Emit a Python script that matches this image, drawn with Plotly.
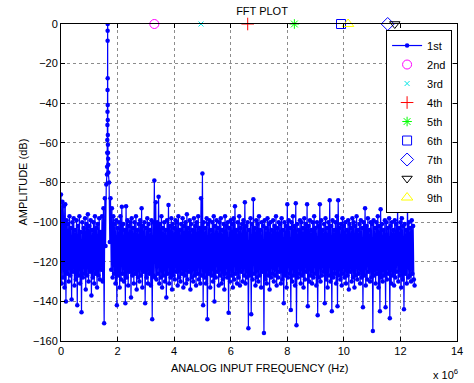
import numpy as np
import plotly.graph_objects as go

# ---------------- data ----------------
bin_hz = 25e3            # FFT bin spacing (Hz)
fund_hz = 1.65e6         # fundamental frequency (Hz)

# amplitude of each FFT bin (dB), bins 0..500 (0 .. 12.5 MHz)
noise_db = [
    -86, -131, -89.7, -128, -92, -133, -91, -140, -99, -126, -101, -130, -97, -127, -103, -139, -100, -125, -98, -132,
    -104, -129, -99, -142, -102, -127, -97, -131, -105, -145.5, -100, -128, -103, -126, -98, -134, -101, -127, -96, -130,
    -102, -125, -99, -137, -104, -128, -100, -131, -97, -126, -103, -133, -101, -127, -98, -129, -105, -124, -97, -130,
    -93, -151, -88, -112, -81, -76, 0, -75, -80, -110, -88, -124, -93, -128, -97, -126, -101, -131, -99, -142,
    -103, -127, -100, -133, -97, -129, -92.2, -126, -101, -130, -104, -141, -92, -128, -99, -132, -102, -125, -100, -138,
    -98, -127, -103, -131, -100, -126, -97, -134, -104, -128, -101, -130, -99, -127, -93, -133, -102, -125, -100, -141,
    -103, -128, -98, -131, -101, -126, -104, -132, -99, -149, -100, -127, -79, -128, -90, -129, -100, -126, -87.2, -131,
    -101, -128, -97, -133, -103, -127, -100, -130, -104, -138, -99, -126, -91.4, -131, -102, -128, -98, -134, -101, -127,
    -103, -129, -99, -125, -100, -132, -97, -128, -104, -130, -101, -126, -98, -133, -102, -127, -100, -131, -96, -129,
    -103, -125, -99, -134, -101, -128, -104, -130, -98, -127, -102, -132, -100, -126, -97, -129, -103, -131, -88, -127,
    -75.4, -142, -100, -128, -103, -131, -98, -149, -101, -126, -99, -133, -104, -127, -100, -130, -97, -140, -102, -128,
    -99, -125, -103, -132, -100, -127, -98, -131, -104, -129, -101, -134, -97, -126, -102, -128, -100, -145.8, -103, -130,
    -99, -127, -101, -133, -98, -129, -92, -126, -104, -131, -100, -128, -97, -132, -103, -125, -101, -130, -99, -127,
    -90, -131, -102, -128, -100, -153.6, -104, -127, -98, -146.5, -101, -129, -88.4, -126, -103, -132, -99, -128, -101, -130,
    -97, -127, -104, -133, -100, -125, -102, -156, -99, -129, -103, -131, -98, -127, -101, -134, -100, -128, -104, -126,
    -99, -130, -102, -127, -97, -132, -103, -128, -100, -125, -101, -131, -98, -129, -104, -141, -100, -127, -102, -133,
    -91, -128, -99, -126, -103, -144.4, -100, -130, -97, -127, -102, -132, -90.5, -152, -101, -128, -104, -126, -99, -131,
    -100, -127, -103, -133, -98, -129, -101, -125, -91, -142.4, -102, -130, -99, -127, -104, -131, -100, -128, -97, -126,
    -103, -132, -100, -147, -102, -128, -91, -130, -99, -127, -104, -125, -101, -141, -98, -129, -103, -133, -100, -127,
    -89, -130, -102, -145, -99, -128, -104, -126, -100, -131, -97, -142.4, -89, -127, -103, -129, -101, -132, -98, -126,
    -102, -128, -100, -131, -104, -127, -99, -134, -101, -125, -103, -130, -98, -128, -100, -133, -102, -127, -97, -129,
    -104, -126, -101, -131, -99, -128, -103, -143, -100, -127, -93, -132, -102, -129, -98, -125, -104, -130, -100, -128,
    -101, -155, -99, -127, -103, -131, -100, -126, -97, -133, -102, -145, -93.5, -128, -101, -130, -104, -127, -99, -143,
    -100, -129, -103, -126, -98, -148.5, -102, -131, -100, -127, -104, -132, -99, -128, -101, -125, -91.5, -130, -103, -127,
    -100, -133, -98, -129, -102, -144, -101, -126, -104, -131, -90, -128, -100, -127, -103, -130, -99, -126, -102, -129,
    -132,
]

# extra points on the leakage skirt of the fundamental (offset from fundamental, Hz)
skirt_offset_hz = [-20e3, -16e3, -12e3, -9e3, -6e3, -4e3, -2e3, -1e3,
                   1e3, 2e3, 4e3, 6e3, 9e3, 12e3, 16e3, 20e3]
skirt_db = [-72, -65, -58.6, -51, -44.3, -33.3, -8.4, -3.4,
            -27.4, -40.9, -48.5, -56, -61, -65, -68, -71]

# harmonic markers
harm_names = ["2nd", "3rd", "4th", "5th", "6th", "7th", "8th", "9th"]
harm_hz = [3.30e6, 4.95e6, 6.60e6, 8.25e6, 9.90e6, 11.55e6, 11.80e6, 10.15e6]
harm_db = [0, 0, 0, 0, 0, 0, 0, 0]
harm_symbols = ["circle-open", "x-thin-open", "cross-thin-open", "asterisk-open",
                "square-open", "diamond-open", "triangle-down-open", "triangle-up-open"]
harm_colors = ["#ff00ff", "#00e5e5", "#ff0000", "#00ff00",
               "#0000ff", "#0000ff", "#000000", "#ffff00"]
harm_sizes = [9, 5, 9, 8, 9, 10, 9, 10]

x_tickvals = [0, 2e6, 4e6, 6e6, 8e6, 10e6, 12e6, 14e6]
x_ticktext = ["0", "2", "4", "6", "8", "10", "12", "14"]
y_tickvals = [0, -20, -40, -60, -80, -100, -120, -140, -160]

# ---------------- build series ----------------
bin_freq = np.arange(len(noise_db)) * bin_hz
all_f = np.concatenate([bin_freq, fund_hz + np.array(skirt_offset_hz)])
all_db = np.concatenate([np.array(noise_db, dtype=float), np.array(skirt_db, dtype=float)])
order = np.argsort(all_f, kind="stable")
all_f = all_f[order]
all_db = all_db[order]

FONT = "Liberation Sans, Arial, Helvetica, sans-serif"

fig = go.Figure()
fig.add_trace(go.Scatter(
    x=all_f, y=all_db, mode="lines+markers", name="1st",
    line=dict(color="#0000ff", width=1.2, simplify=False),
    marker=dict(color="#0000ff", size=4.5, symbol="circle"),
))
for name, hx, hy, sym, col, sz in zip(harm_names, harm_hz, harm_db, harm_symbols, harm_colors, harm_sizes):
    fig.add_trace(go.Scatter(
        x=[hx], y=[hy], mode="markers", name=name, cliponaxis=False,
        marker=dict(symbol=sym, color=col, size=sz, line=dict(color=col, width=1)),
    ))

axis_common = dict(
    showline=True, linecolor="black", linewidth=1, mirror="ticks",
    ticks="inside", ticklen=4, tickcolor="black", tickwidth=1,
    showgrid=True, gridcolor="rgb(140,140,140)", griddash="dot", gridwidth=1,
    zeroline=False, tickfont=dict(family=FONT, size=11, color="black"),
)

fig.update_layout(
    width=474, height=383,
    margin=dict(l=61, r=11, t=24, b=42),
    paper_bgcolor="white", plot_bgcolor="white",
    font=dict(family=FONT, size=11, color="black"),
    title=dict(text="FFT PLOT", x=262 / 474, xanchor="center", y=1 - 11 / 383, yanchor="middle",
               font=dict(family=FONT, size=11, color="black")),
    xaxis=dict(range=[0, 14e6], tickvals=x_tickvals, ticktext=x_ticktext, **axis_common),
    yaxis=dict(range=[-160, 0], tickvals=y_tickvals, **axis_common),
    showlegend=True,
    legend=dict(x=0.9876, y=0.981, xanchor="right", yanchor="top",
                bgcolor="white", bordercolor="black", borderwidth=1,
                font=dict(family=FONT, size=11, color="black"),
                itemwidth=30, tracegroupgap=0),
    annotations=[
        dict(text="ANALOG INPUT FREQUENCY (Hz)", xref="paper", yref="paper", x=0.5, y=0,
             yshift=-27, xanchor="center", yanchor="middle", showarrow=False,
             font=dict(family=FONT, size=11, color="black")),
        dict(text="AMPLITUDE (dB)", xref="paper", yref="paper", x=0, y=0.5,
             xshift=-39, textangle=-90, xanchor="center", yanchor="middle", showarrow=False,
             font=dict(family=FONT, size=11, color="black")),
        dict(text="x 10<sup>6</sup>", xref="paper", yref="paper", x=1, y=0,
             xshift=3, yshift=-33, xanchor="right", yanchor="middle", showarrow=False,
             font=dict(family=FONT, size=11, color="black")),
    ],
)

fig.write_html("out.html")
